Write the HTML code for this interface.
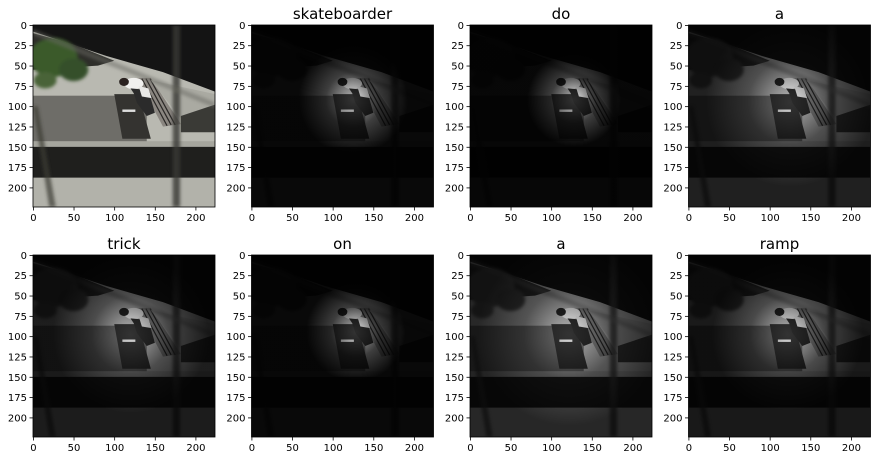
<!DOCTYPE html>
<html><head><meta charset="utf-8"><style>
html,body{margin:0;padding:0;background:#fff;}
svg{display:block;font-family:"DejaVu Sans","Liberation Sans",sans-serif;}
</style></head><body>
<svg id="fig" width="881" height="461" viewBox="0 0 881 461">
<defs>
<filter id="gray"><feColorMatrix type="saturate" values="0"/></filter>
<filter id="blur1" x="-20%" y="-20%" width="140%" height="140%"><feGaussianBlur stdDeviation="2"/></filter>
<symbol id="scene" viewBox="0 0 224 224">
  <rect x="0" y="0" width="224" height="224" fill="#b9b9b1"/>
  <polygon points="0,0 224,0 224,82 160,58 90,38 30,18 0,8" fill="#141414"/>
  <polygon points="0,10 50,24 100,44 80,50 0,55" fill="#2e2e2a"/>
  <g filter="url(#blur1)">
    <ellipse cx="25" cy="40" rx="30" ry="24" fill="#3a5a2c"/>
    <ellipse cx="50" cy="55" rx="18" ry="14" fill="#34502a"/>
    <ellipse cx="15" cy="68" rx="14" ry="10" fill="#4a6438"/>
  </g>
  <rect x="0" y="87" width="140" height="58" fill="#6e6d68"/>
  <polygon points="100,85 130,85 145,140 110,140" fill="#343330"/>
  <polygon points="128,65 145,65 182,122 160,125" fill="#8a8680"/>
  <g stroke="#2a2826" stroke-width="1.5">
    <line x1="134" y1="66" x2="165" y2="124"/>
    <line x1="139" y1="66" x2="170" y2="123"/>
    <line x1="144" y1="66" x2="175" y2="123"/>
  </g>
  <polygon points="145,68 182,115 224,110 224,85" fill="#aaaaa2"/>
  <polygon points="182,112 224,98 224,132 182,132" fill="#3a3a36"/>
  <rect x="0" y="143" width="224" height="10" fill="#a6a69e"/>
  <rect x="0" y="150" width="224" height="38" fill="#1f1f1d"/>
  <rect x="0" y="188" width="224" height="36" fill="#b2b2aa"/>
  <g filter="url(#blur1)">
    <rect x="172" y="0" width="9" height="224" fill="#3a3a34" opacity="0.8"/>
    <polygon points="0,100 6,100 28,224 20,224" fill="#3a3a34" opacity="0.7"/>
    <polygon points="0,5 224,95 224,102 0,12" fill="#6a6a62" opacity="0.5"/>
  </g>
  <ellipse cx="124" cy="72" rx="12" ry="7" fill="#f0f0ee"/>
  <ellipse cx="112" cy="70" rx="6" ry="5" fill="#2a2220"/>
  <polygon points="120,78 142,80 150,108 140,112 128,96 124,84" fill="#2b2b2b"/>
  <polygon points="130,75 142,78 146,90 134,88" fill="#e8e8e6"/>
  <rect x="110" y="104" width="16" height="3" fill="#ddd"/>
</symbol>
</defs>
<g id="panels"></g>
</svg>
<script>
const titles = ["", "skateboarder", "do", "a", "trick", "on", "a", "ramp"];
const outerDark = [0, 0.95, 0.96, 0.82, 0.84, 0.95, 0.78, 0.86];
const focusX = [112, 125, 128, 125, 120, 128, 122, 122];
const focusY = [112, 92, 92, 95, 98, 95, 98, 98];
const focusR = [0, 42, 36, 65, 60, 38, 70, 58];
const yTicks = [0, 25, 50, 75, 100, 125, 150, 175, 200];
const xTicks = [0, 50, 100, 150, 200];
const NS = "http://www.w3.org/2000/svg";
const colX = [33, 251.5, 470, 688.5];
const rowY = [25, 255];
const S = 182, IMG = 224, k = S / IMG;
const root = document.getElementById('panels');
const defs = document.querySelector('defs');
function mk(tag, attrs, parent) {
  const e = document.createElementNS(NS, tag);
  for (const a in attrs) e.setAttribute(a, attrs[a]);
  parent.appendChild(e); return e;
}
titles.forEach((t, i) => {
  const x0 = colX[i % 4], y0 = rowY[Math.floor(i / 4)];
  const g = mk('g', {}, root);
  
  
  const u = mk('use', {href: '#scene', x: x0, y: y0, width: S, height: S}, g);
  if (i > 0) {
    u.setAttribute('filter', 'url(#gray)');
    const gid = 'att' + i;
    const rg = mk('radialGradient', {id: gid, gradientUnits: 'userSpaceOnUse',
      cx: x0 + focusX[i] * k, cy: y0 + focusY[i] * k, r: focusR[i] * k * 1.6}, defs);
    mk('stop', {offset: '0', 'stop-color': '#000', 'stop-opacity': 0.0}, rg);
    mk('stop', {offset: '0.5', 'stop-color': '#000', 'stop-opacity': outerDark[i] * 0.7}, rg);
    mk('stop', {offset: '1', 'stop-color': '#000', 'stop-opacity': outerDark[i]}, rg);
    const ov = mk('rect', {x: x0, y: y0, width: S, height: S, fill: 'url(#' + gid + ')'}, g);
    
    
    const tt = mk('text', {x: x0 + S / 2, y: y0 - 6, 'text-anchor': 'middle', 'font-size': 15, fill: '#000'}, g);
    tt.textContent = t;
    
    
  }
  mk('rect', {x: x0, y: y0, width: S, height: S, fill: 'none', stroke: '#000', 'stroke-width': 0.8}, g);
  yTicks.forEach(v => {
    const y = y0 + (v + 0.5) * k;
    mk('line', {x1: x0 - 3.5, x2: x0, y1: y, y2: y, stroke: '#000', 'stroke-width': 0.8}, g);
    const tx = mk('text', {x: x0 - 6, y: y + 3.5, 'text-anchor': 'end', 'font-size': 10, fill: '#000'}, g);
    tx.textContent = v;
    
    
  });
  xTicks.forEach(v => {
    const x = x0 + (v + 0.5) * k;
    mk('line', {x1: x, x2: x, y1: y0 + S, y2: y0 + S + 3.5, stroke: '#000', 'stroke-width': 0.8}, g);
    const tx = mk('text', {x: x, y: y0 + S + 14, 'text-anchor': 'middle', 'font-size': 10, fill: '#000'}, g);
    tx.textContent = v;
    
    
  });
});
</script>
</body></html>
